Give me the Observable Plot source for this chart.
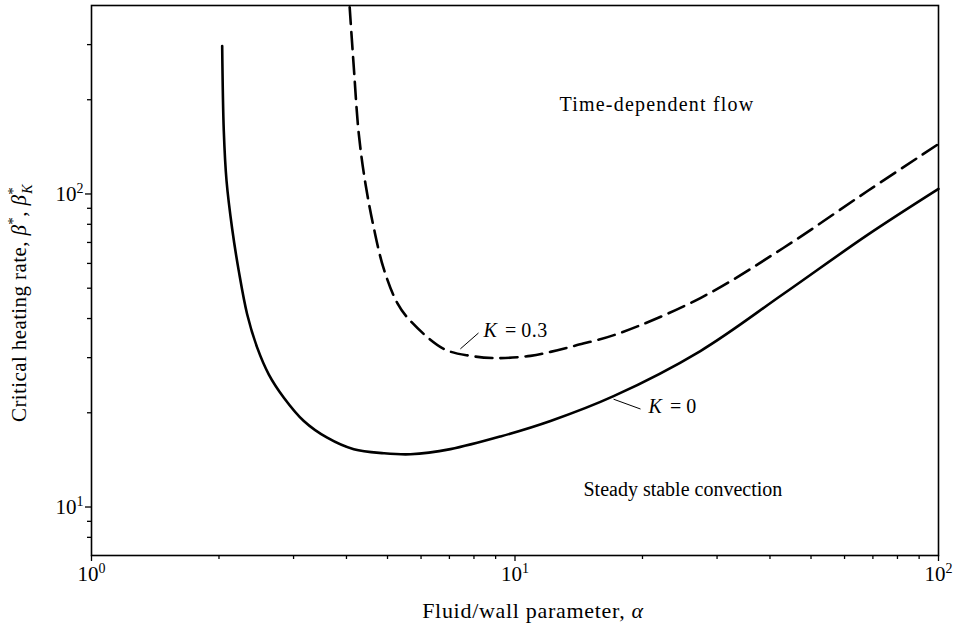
<!DOCTYPE html>
<html>
<head>
<meta charset="utf-8">
<script src="https://cdn.jsdelivr.net/npm/d3@7"></script>
<script src="https://cdn.jsdelivr.net/npm/@observablehq/plot@0.6"></script>
<style>
  html, body { margin: 0; padding: 0; background: #fff; }
  #chart svg { display: block; }
</style>
</head>
<body>
<div id="chart"></div>
<script>
// Curve K = 0 (solid)
const alphaK0 = [2.035, 2.053, 2.084, 2.149, 2.227, 2.331, 2.462, 2.623, 2.846, 3.172, 3.602, 4.163, 4.90, 5.665, 7.04, 9.24, 12.13, 17.09, 27.4, 43.0, 68.0, 100];
const betaK0  = [297, 158.9, 110, 77.3, 56.8, 41.3, 32.3, 26.5, 22.35, 18.83, 16.65, 15.29, 14.85, 14.74, 15.31, 16.80, 18.83, 22.6, 31.5, 47.9, 74.0, 103.8];
// Curve K = 0.3 (dashed)
const alphaK03 = [4.07, 4.163, 4.277, 4.436, 4.641, 4.90, 5.27, 5.665, 6.79, 7.85, 9.08, 10.88, 12.13, 14.02, 17.43, 27.4, 43.0, 68.0, 100];
const betaK03  = [395, 253.3, 155.5, 107.6, 77.9, 57.6, 44.9, 39.3, 32.0, 30.4, 29.9, 30.4, 31.3, 32.9, 35.7, 46.5, 67.2, 102.2, 144.4];

// Tick values
const majorX = [1, 10, 100];
const minorX = [2, 3, 4, 5, 6, 7, 8, 9, 20, 30, 40, 50, 60, 70, 80, 90];
const majorY = [10, 100];
const minorY = [8, 9, 20, 30, 40, 50, 60, 70, 80, 90, 200, 300];

// Annotations
const curveLabels = ["K = 0.3", "K = 0"];
const curveLabelAlpha = [8.43, 20.67];
const curveLabelBeta  = [36.5, 21.0];
const regionLabels = ["Time-dependent flow", "Steady stable convection"];
const regionLabelAlpha = [12.74, 14.51];
const regionLabelBeta  = [192.4, 11.4];
const leaderAlpha1 = [7.43, 17.09];
const leaderBeta1  = [32.0, 22.1];
const leaderAlpha2 = [8.20, 19.79];
const leaderBeta2  = [35.97, 20.56];

const k0 = alphaK0.map((a, i) => ({a, b: betaK0[i]}));
const k03 = alphaK03.map((a, i) => ({a, b: betaK03[i]}));
const cLabels = curveLabels.map((t, i) => ({t, a: curveLabelAlpha[i], b: curveLabelBeta[i]}));
const rLabels = regionLabels.map((t, i) => ({t, a: regionLabelAlpha[i], b: regionLabelBeta[i]}));
const leaders = leaderAlpha1.map((a, i) => ({a1: a, b1: leaderBeta1[i], a2: leaderAlpha2[i], b2: leaderBeta2[i]}));

const supFmt = d => "10^" + Math.round(Math.log10(d));

const chart = Plot.plot({
  width: 956,
  height: 628,
  marginLeft: 91,
  marginRight: 18,
  marginTop: 5,
  marginBottom: 73,
  style: "font-family: 'Liberation Serif', 'Times New Roman', serif; font-size: 20px; color: black; background: white;",
  x: {type: "log", domain: [1, 100]},
  y: {type: "log", domain: [7, 400]},
  marks: [
    Plot.axisX({ticks: majorX, tickSize: 6, tickPadding: 5, tickFormat: supFmt, label: null, strokeWidth: 1.3, fontSize: 21}),
    Plot.axisX({ticks: minorX, tickSize: 4, tickFormat: () => "", label: null, strokeWidth: 1.3}),
    Plot.axisY({ticks: majorY, tickSize: 6, tickPadding: 2, tickFormat: supFmt, label: null, strokeWidth: 1.3, fontSize: 21}),
    Plot.axisY({ticks: minorY, tickSize: 4, tickFormat: () => "", label: null, strokeWidth: 1.3}),
    Plot.frame({stroke: "black", strokeWidth: 1.6}),
    Plot.line(k0, {x: "a", y: "b", stroke: "black", strokeWidth: 2.6, curve: "catmull-rom"}),
    Plot.line(k03, {x: "a", y: "b", stroke: "black", strokeWidth: 2.6, strokeDasharray: "17,8", curve: "catmull-rom"}),
    Plot.link(leaders, {x1: "a1", y1: "b1", x2: "a2", y2: "b2", stroke: "black", strokeWidth: 1}),
    Plot.text(cLabels, {x: "a", y: "b", text: "t", textAnchor: "start", fontSize: 20, fill: "black"}),
    Plot.text(rLabels, {x: "a", y: "b", text: "t", textAnchor: "start", fontSize: 20, fill: "black"})
  ]
});

const svg = d3.select(chart);
svg.selectAll("text").each(function() {
  const el = d3.select(this);
  const s = this.textContent;
  let m = s.match(/^10\^(\d+)$/);
  if (m) {
    el.text("10");
    el.append("tspan").attr("dy", "-8").attr("font-size", "14px").text(m[1]);
    return;
  }
  m = s.match(/^K = (.*)$/);
  if (m) {
    el.text("");
    el.append("tspan").attr("font-style", "italic").text("K");
    el.append("tspan").text("\u2009=\u2009" + m[1]).attr("dx", "3");
    el.attr("letter-spacing", "0.5px");
    return;
  }
  if (s === "Time-dependent flow") el.attr("letter-spacing", "1.2px");
});

// Axis titles
svg.append("text")
  .attr("x", 533).attr("y", 618)
  .attr("text-anchor", "middle")
  .attr("font-size", "22px")
  .attr("letter-spacing", "0.7px")
  .call(t => {
    t.append("tspan").text("Fluid/wall parameter, ");
    t.append("tspan").attr("font-style", "italic").text("α");
  });

svg.append("text")
  .attr("transform", "translate(26,303) rotate(-90)")
  .attr("text-anchor", "middle")
  .attr("font-size", "21px")
  .attr("letter-spacing", "0.4px")
  .call(t => {
    t.append("tspan").text("Critical heating rate, ");
    t.append("tspan").attr("font-style", "italic").text("β");
    t.append("tspan").attr("dy", "-8").attr("font-size", "15px").text("*");
    t.append("tspan").attr("dy", "8").text(", ");
    t.append("tspan").attr("font-style", "italic").text("β");
    t.append("tspan").attr("dy", "-8").attr("font-size", "15px").text("*");
    t.append("tspan").attr("dx", "-7").attr("dy", "14").attr("font-size", "14px").attr("font-style", "italic").text("K");
  });

document.getElementById("chart").appendChild(chart);
</script>
</body>
</html>
